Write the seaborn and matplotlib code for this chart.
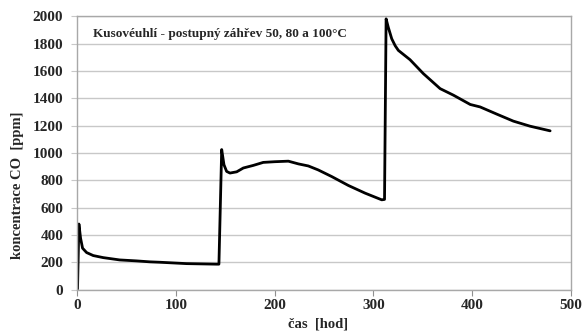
import matplotlib
matplotlib.use("Agg")
import matplotlib.pyplot as plt
import seaborn as sns
import pandas as pd

# Data
cas_hod = [0.3, 1.7, 3.4, 5.4, 9.5, 16.2, 26.3, 43, 60, 73.6, 83.8, 110.8,
           141.2, 143.5,
           146.3, 148.6, 151.3, 154.7, 161.5, 168.2, 178.3, 188.4, 200,
           213.8, 224, 234, 244, 257.8, 274.6, 291.5, 308.4, 311.2,
           312.8, 315, 318.5, 322, 325.2, 337, 350.5, 367.5, 381, 398, 408,
           425, 441.7, 458.6, 478.9]
koncentrace_co = [5, 480, 376, 303, 271, 249, 234, 217, 210, 203, 200, 190,
                  186, 186,
                  1025, 914, 865, 853, 862, 890, 909, 931, 936,
                  940, 920, 905, 876, 827, 762, 706, 657, 660,
                  1982, 1920, 1836, 1785, 1751, 1683, 1581, 1471, 1423, 1355,
                  1337, 1284, 1233, 1196, 1162]

x_ticks = [0, 100, 200, 300, 400, 500]
y_ticks = [0, 200, 400, 600, 800, 1000, 1200, 1400, 1600, 1800, 2000]
title_text = "Kusovéuhlí - postupný záhřev 50, 80 a 100°C"
x_label = "čas  [hod]"
y_label = "koncentrace CO  [ppm]"

df = pd.DataFrame({"t": cas_hod, "co": koncentrace_co})

sns.set_theme(style="white")
plt.rcParams['font.family'] = ['Liberation Serif', 'DejaVu Serif']
plt.rcParams['font.weight'] = 'bold'

fig = plt.figure(figsize=(5.85, 3.34), dpi=100)
ax = fig.add_axes([0.132, 0.133, 0.844, 0.818])

sns.lineplot(data=df, x="t", y="co", ax=ax, color="black", linewidth=2.0,
             estimator=None, sort=False)

ax.set_xlim(0, 500)
ax.set_ylim(0, 2000)
ax.set_xticks(x_ticks)
ax.set_yticks(y_ticks)
ax.set_xticklabels([str(v) for v in x_ticks], fontsize=11, fontweight='bold')
ax.set_yticklabels([str(v) for v in y_ticks], fontsize=11, fontweight='bold')

ax.yaxis.grid(True, color="#c8c8c8", linewidth=1.0)
ax.xaxis.grid(False)
ax.set_axisbelow(True)

for side in ["top", "right", "left", "bottom"]:
    ax.spines[side].set_color("#a8a8a8")
    ax.spines[side].set_linewidth(1.0)

ax.tick_params(axis="x", direction="out", length=4, width=0.8, color="#909090",
               pad=3, bottom=True)
ax.tick_params(axis="y", direction="out", length=4, width=0.8, color="#c8c8c8",
               pad=6, left=True)

ax.set_xlabel(x_label, fontsize=10.5, fontweight='bold')
ax.xaxis.set_label_coords(0.487, -0.102)
ax.set_ylabel(y_label, fontsize=10.5, fontweight='bold')
ax.yaxis.set_label_coords(-0.108, 0.383)

ax.text(0.031, 0.935, title_text, transform=ax.transAxes, fontsize=9.5,
        fontweight='bold', ha='left', va='center')

fig.savefig("out.png", dpi=100)
